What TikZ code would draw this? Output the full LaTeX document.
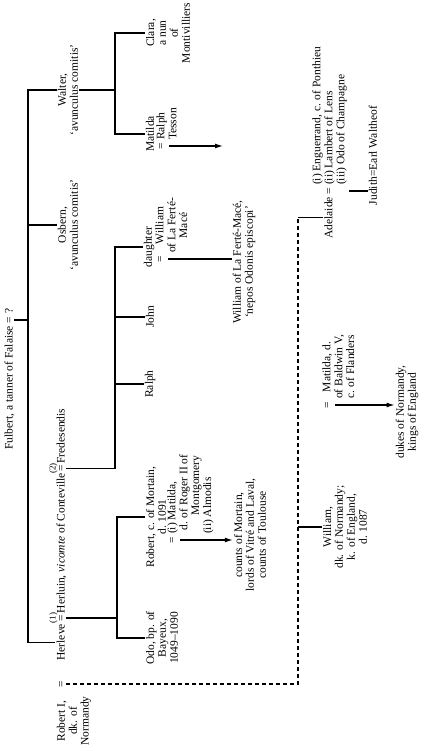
\documentclass[tikz,border=0pt]{standalone}
\usepackage{fontspec}
\setmainfont{Liberation Serif}
\usepackage{tikz}
\usetikzlibrary{arrows.meta}

\begin{document}
\begin{tikzpicture}[x=1pt, y=-1pt,
    person/.style={rotate=90, font=\fontsize{11.5}{11.9}\selectfont, align=center,
                   inner xsep=1.2pt, inner ysep=1pt},
    note/.style={rotate=90, font=\fontsize{9}{10}\selectfont, inner sep=0.5pt},
    link/.style={line width=1.2pt},
    arr/.style={-{Latex[length=8pt,width=5pt]}, line width=1.2pt},
    dashline/.style={line width=1.4pt, dash pattern=on 4.5pt off 2.5pt}
  ]
  \useasboundingbox (0,0) rectangle (425,751);

  \coordinate (trunk) at (28,0);
  \coordinate (wbar) at (115,0);
  \coordinate (hbar) at (117,0);
  \coordinate (fbar) at (115,0);
  \coordinate (rbar) at (298,0);
  \coordinate (mtEnd) at (223,0);

  % first generation
  \node[person] (eqF) at (10,320) {=};
  \node[person, anchor=base east] (fulbert) at (eqF.base west) {Fulbert, a tanner of Falaise};
  \node[person, anchor=base west] (qF) at (eqF.base east) {?};

  % Fulbert's children
  \node[person] (walter) at (68,90) {Walter,\\`avunculus comitis'};
  \node[person] (osbern) at (68,225) {Osbern,\\`avunculus comitis'};
  \node[person] (eq1) at (62,618) {=};
  \node[person, anchor=base east] (herleve) at (eq1.base west) {Herleve};
  \node[person, anchor=base west, inner xsep=0pt] (herluin) at (eq1.base east) {Herluin, \textit{vicomte} of Conteville};
  \node[person, anchor=base west] (eq2) at (herluin.base east) {=};
  \node[person, anchor=base west, inner xsep=0pt] (fredesendis) at (eq2.base east) {Fredesendis};
  \node[note, anchor=south] (mar1) at (eq1.north) {(1)};
  \node[note, anchor=south] (mar2) at (eq2.north) {(2)};
  \node[person] (robertI) at (74,721) {Robert I,\\dk. of\\Normandy};
  \node[person] (eqR) at (62,684) {=};

  % Walter's line
  \node[person] (clara) at (168,33) {Clara,\\a nun\\of\\Montivilliers};
  \node[person] (matilda) at (150,134) {Matilda};
  \node[person] (eqMT) at (162,146) {\strut=};
  \node[person, anchor=north west, align=left] (tesson) at (eqMT.north east) {\strut Ralph\\Tesson};

  % Fredesendis' children
  \node[person] (daughter) at (149,247) {daughter};
  \node[person] (eqDW) at (161,259) {\strut=};
  \node[person, anchor=north west] (williamLF) at (eqDW.north east) {\strut William\\of La Ferté-\\Macé};
  \node[person] (nepos) at (244,262) {William of La Ferté-Macé,\\`nepos Odonis episcopi'};
  \node[person] (john) at (150,317) {John};
  \node[person] (ralph) at (150,384) {Ralph};

  % Herleve's children by Herluin
  \node[person] (robert) at (156,517) {Robert, c. of Mortain,\\d. 1091};
  \node[person] (eqRb) at (173,540) {\strut=};
  \node[person, anchor=north west, align=left] (matildaR) at (eqRb.north east)
    {\strut(i) Matilda,\\\hspace*{0.3em}d. of Roger II of\\\hspace*{1.6em}Montgomery\\(ii) Almodis};
  \node[person] (counts) at (250,535) {counts of Mortain,\\lords of Vitré and Laval,\\counts of Toulouse};
  \node[person] (odo) at (162,638) {Odo, bp. of\\Bayeux,\\1049--1090};

  % Robert I's children
  \node[person] (eqA) at (330,191) {\strut=};
  \node[person, anchor=base east] (adelaide) at (eqA.base west) {Adelaide};
  \node[person, anchor=west, align=left] (adelHusb) at (eqA.east)
    {\strut(i) Enguerrand, c. of Ponthieu\\\strut(ii) Lambert of Lens\\\strut(iii) Odo of Champagne};
  \node[person, inner xsep=0pt] (judith) at (373,191) {Judith};
  \node[person, anchor=base west, inner xsep=0pt] (waltheof) at (judith.base east) {=Earl Waltheof};
  \node[person] (william) at (345,527) {William,\\dk. of Normandy;\\k. of England,\\d. 1087};
  \node[person] (eqW) at (328,405) {\strut=};
  \node[person, anchor=north west] (matildaF) at (eqW.north east) {\strut Matilda, d.\\of Baldwin V,\\c. of Flanders};
  \node[person] (dukes) at (407,412) {dukes of Normandy,\\kings of England};

  % connectors
  \draw[link] (eqF.south) -- (eqF.south -| trunk);
  \draw[link] (walter.north) -- (walter.north -| trunk) -- (herleve.north -| trunk) -- (herleve.north);
  \draw[link] (osbern.north -| trunk) -- (osbern.north);

  \draw[link] (walter.south) -- (walter.south -| wbar);
  \draw[link] (clara.north) -- (clara.north -| wbar) -- (matilda.north -| wbar) -- (matilda.north);
  \draw[arr] (eqMT.south) -- (eqMT.south -| mtEnd);

  \draw[link] (eq1.south) -- (eq1.south -| hbar);
  \draw[link] (robert.north) -- (robert.north -| hbar) -- (odo.north -| hbar) -- (odo.north);
  \draw[arr] (eqRb.south) -- (eqRb.south -| counts.north);

  \draw[link] (eq2.south) -- (eq2.south -| fbar) -- (daughter.north -| fbar) -- (daughter.north);
  \draw[link] (john.north -| fbar) -- (john.north);
  \draw[link] (ralph.north -| fbar) -- (ralph.north);
  \draw[link] (eqDW.south) -- (eqDW.south -| nepos.north);

  \draw[dashline] (eqR.south) -- (eqR.south -| rbar) -- (adelaide.north -| rbar);
  \draw[link] (adelaide.north -| rbar) -- (adelaide.north);
  \draw[link] (william.north -| rbar) -- (william.north);
  \draw[link] (eqA -| adelHusb.south) -- (eqA -| judith.north);
  \draw[arr] (eqW.south) -- (eqW.south -| dukes.north);
\end{tikzpicture}
\end{document}
